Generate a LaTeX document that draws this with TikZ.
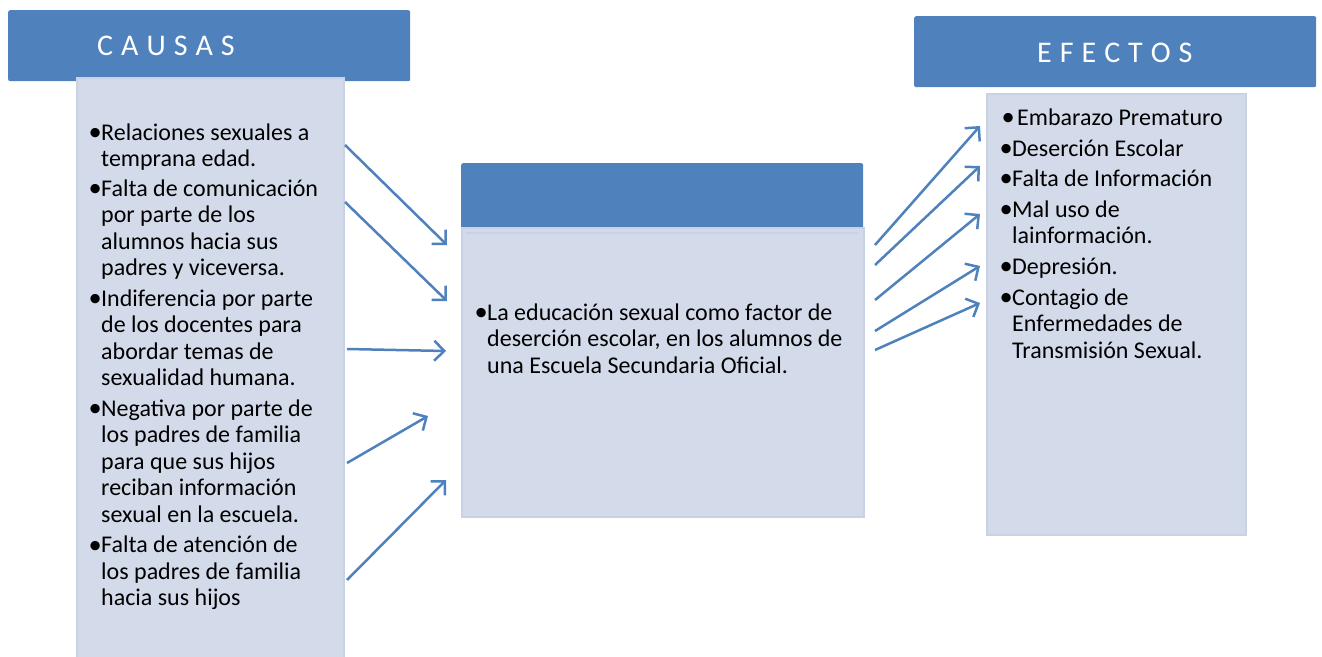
\documentclass[tikz,border=0pt]{standalone}
\usepackage{fontspec}
\setmainfont{Carlito}
\usetikzlibrary{arrows.meta}
\definecolor{hdr}{HTML}{4F81BD}
\definecolor{bodyfill}{HTML}{D3DBEA}
\definecolor{bodyline}{HTML}{C9D2E4}
\newcommand{\bdot}{\hspace{-1.5pt}\raisebox{-0.8pt}{\scalebox{1.1}{\textbullet}}}
\newcommand{\blt}{\makebox[11pt][l]{\bdot}}
\newcommand{\itemlines}[1]{\blt\begin{tabular}[t]{@{}l@{}}#1\end{tabular}}
\newcommand{\lsp}{\hspace{8pt}}
\begin{document}
\begin{tikzpicture}[x=1pt,y=-1pt,
  hdrbox/.style={fill=hdr, draw=none, rounded corners=2pt, inner sep=0pt, anchor=north west},
  bodybox/.style={fill=bodyfill, draw=bodyline, line width=1.5pt, inner sep=0pt, anchor=north west},
  txt/.style={font=\fontsize{24}{26.5}\selectfont, inner sep=0pt, anchor=base west, text=black},
  htxt/.style={font=\fontsize{30}{36}\selectfont, text=white, inner sep=0pt, anchor=base west},
  arr/.style={draw=hdr, line width=2.5pt, -{Straight Barb[length=10pt,width=20pt]}}]
\useasboundingbox (0,0) rectangle (1322,656);
\fill[white] (0,0) rectangle (1322,656);

% CAUSAS
\node[hdrbox, minimum width=402pt, minimum height=71pt] (causasHead) at (8,10) {};
\node[htxt] (causasTitle) at (97,55) {C\lsp A\lsp U\lsp S\lsp A\lsp S};
\node[bodybox, minimum width=267pt, minimum height=582pt] (causasBody) at (76,77) {};

\node[txt] (c1) at (90,140) {\itemlines{Relaciones sexuales a\\temprana edad.}};
\node[txt] (c2) at (90,196) {\itemlines{Falta de comunicación\\por parte de los\\alumnos hacia sus\\padres y viceversa.}};
\node[txt] (c3) at (90,306) {\itemlines{Indiferencia por parte\\de los docentes para\\abordar temas de\\sexualidad humana.}};
\node[txt] (c4) at (90,416) {\itemlines{Negativa por parte de\\los padres de familia\\para que sus hijos\\reciban información\\sexual en la escuela.}};
\node[txt] (c5) at (90,552.5) {\itemlines{Falta de atención de\\los padres de familia\\hacia sus hijos}};

% CENTER
\node[hdrbox, minimum width=402pt, minimum height=66pt] (midHead) at (461,163) {};
\node[bodybox, minimum width=402pt, minimum height=289pt] (midBody) at (461,227) {};
\draw[bodyline, line width=1.5pt] (466,233) -- (858,233);
\node[txt] (m1) at (476,320) {\itemlines{La educación sexual como factor de\\deserción escolar, en los alumnos de\\una Escuela Secundaria Oficial.}};

% EFECTOS
\node[hdrbox, minimum width=402pt, minimum height=71pt] (efectosHead) at (914,16) {};
\node[htxt] (efectosTitle) at (1037,62) {E\lsp F\lsp E\lsp C\lsp T\lsp O\lsp S};
\node[bodybox, minimum width=259pt, minimum height=441pt] (efectosBody) at (986,93) {};

\node[txt] (e1) at (1003,125) {\makebox[14pt][l]{\bdot}Embarazo Prematuro};
\node[txt] (e2) at (1001,156) {\itemlines{Deserción Escolar}};
\node[txt] (e3) at (1001,186) {\itemlines{Falta de Información}};
\node[txt] (e4) at (1001,217) {\itemlines{Mal uso de\\lainformación.}};
\node[txt] (e5) at (1001,274) {\itemlines{Depresión.}};
\node[txt] (e6) at (1001,305) {\itemlines{Contagio de\\Enfermedades de\\Transmisión Sexual.}};

% arrow end points
\coordinate (la1) at (345,145); \coordinate (lb1) at (447,245);
\coordinate (la2) at (345,202); \coordinate (lb2) at (447,301);
\coordinate (la3) at (347,349); \coordinate (lb3) at (446,351);
\coordinate (la4) at (347,463); \coordinate (lb4) at (428,416);
\coordinate (la5) at (347,580); \coordinate (lb5) at (446,480);
\coordinate (ra1) at (875,245); \coordinate (rb1) at (980,126);
\coordinate (ra2) at (875,265); \coordinate (rb2) at (980,166);
\coordinate (ra3) at (875,300); \coordinate (rb3) at (980,214);
\coordinate (ra4) at (875,331); \coordinate (rb4) at (980,266);
\coordinate (ra5) at (875,350); \coordinate (rb5) at (980,303);

\foreach \i in {1,...,5} {
  \draw[arr] (la\i) -- (lb\i);
  \draw[arr] (ra\i) -- (rb\i);
}
\end{tikzpicture}
\end{document}
